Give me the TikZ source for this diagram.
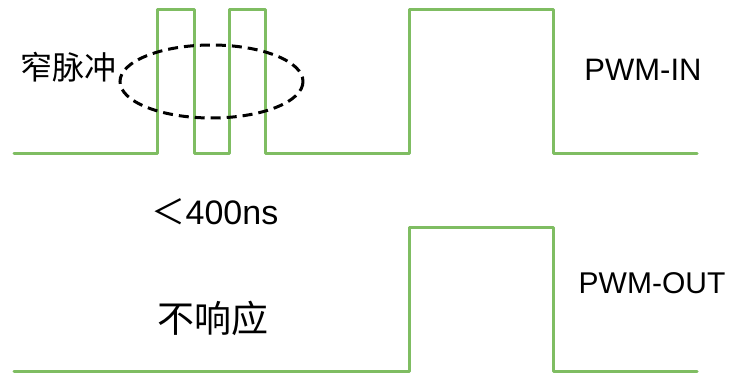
\documentclass[tikz,border=0pt]{standalone}
\usepackage{fontspec}
\setmainfont{Liberation Sans}
\newfontfamily\cjk{Noto Sans CJK SC}
\definecolor{wavegreen}{RGB}{127,189,98}
\begin{document}
\begin{tikzpicture}[x=1pt,y=-1pt,
  wave/.style={draw=wavegreen,line width=3pt,line join=round,line cap=round},
  lbl/.style={inner sep=0pt,font=\fontsize{30}{30}\selectfont},
  cjklbl/.style={inner sep=0pt,font=\cjk\fontsize{32}{32}\selectfont},
  dashring/.style={draw=black,line width=3pt,dash pattern=on 10pt off 6pt}]
\useasboundingbox (0,0) rectangle (743,374);
% PWM-IN waveform
\draw[wave] (14,154) -- (157,154) -- (157,10) -- (194,10) -- (194,154)
  -- (229,154) -- (229,10) -- (265,10) -- (265,154)
  -- (409,154) -- (409,10) -- (553,10) -- (553,154) -- (697,154);
% PWM-OUT waveform
\draw[wave] (14,371) -- (409,371) -- (409,227) -- (553,227) -- (553,371) -- (697,371);
% narrow pulse ellipse
\draw[dashring] (211.5,81.5) ellipse [x radius=91.5, y radius=36.5];
% labels
\node[cjklbl] (narrow) at (68,67) {窄脉冲};
\node[lbl,font=\fontsize{31}{31}\selectfont] (pin) at (643,70) {PWM-IN};
\node[lbl] (pout) at (652,283) {PWM-OUT};
\node[lbl,font=\fontsize{34}{34}\selectfont] (lt) at (215,212) {{\cjk ＜}400ns};
\node[cjklbl,font=\cjk\fontsize{37}{37}\selectfont] (noresp) at (213,318) {不响应};
\end{tikzpicture}
\end{document}
